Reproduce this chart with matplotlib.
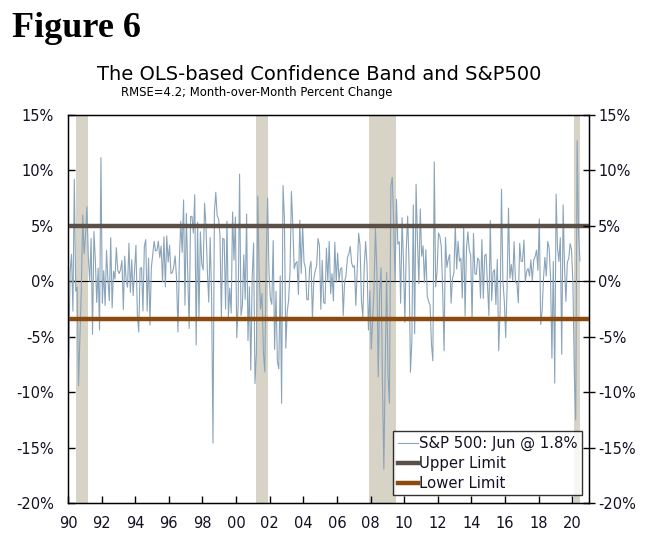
import matplotlib
matplotlib.use("Agg")
import matplotlib.pyplot as plt
import numpy as np

# Monthly S&P 500 percent change, Jan 1990 - Jun 2020
sp_1990 = [-6.88, 0.85, 2.43, -2.69, 9.20, -0.89, -0.52, -9.43, -5.12, -0.67, 5.99, 2.48]
sp_1991 = [4.15, 6.73, 2.22, 0.03, 3.86, -4.79, 4.49, 1.96, -1.91, 1.19, -4.39, 11.16]
sp_1992 = [-1.99, 0.96, -2.18, 2.79, 0.10, -1.74, 3.94, -2.40, 0.91, 0.21, 3.03, 1.01]
sp_1993 = [0.70, 1.05, 1.87, -2.54, 2.27, 0.08, -0.53, 3.44, -1.00, 1.94, -1.29, 1.01]
sp_1994 = [3.25, -3.00, -4.57, 1.15, 1.24, -2.68, 3.15, 3.76, -2.69, 2.09, -3.95, 1.23]
sp_1995 = [2.43, 3.61, 2.73, 2.80, 3.63, 2.13, 3.18, -0.03, 4.01, -0.50, 4.10, 1.74]
sp_1996 = [3.26, 0.69, 0.79, 1.34, 2.29, 0.23, -4.57, 1.88, 5.42, 2.61, 7.34, -2.15]
sp_1997 = [6.13, 0.59, -4.26, 5.84, 5.86, 4.35, 7.81, -5.75, 5.32, -3.45, 4.46, 1.57]
sp_1998 = [1.02, 7.04, 4.99, 0.91, -1.88, 3.94, -1.16, -14.58, 6.24, 8.03, 5.91, 5.64]
sp_1999 = [4.10, -3.23, 3.88, 3.79, -2.50, 5.44, -3.20, -0.63, -2.86, 6.25, 1.91, 5.78]
sp_2000 = [-5.09, -2.01, 9.67, -3.08, -2.19, 2.39, -1.63, 6.07, -5.35, -0.49, -8.01, 0.41]
sp_2001 = [3.46, -9.23, -6.42, 7.68, 0.51, -2.50, -1.08, -6.41, -8.17, 1.81, 7.52, 0.76]
sp_2002 = [-1.56, -2.08, 3.67, -6.14, -0.91, -7.25, -7.90, 0.49, -11.00, 8.64, 5.71, -6.03]
sp_2003 = [-2.74, -1.70, 0.84, 8.10, 5.09, 1.13, 1.62, 1.79, -1.19, 5.50, 0.71, 5.08]
sp_2004 = [1.73, 1.22, -1.64, -1.68, 1.21, 1.80, -3.43, 0.23, 0.94, 1.40, 3.86, 3.25]
sp_2005 = [-2.53, 1.89, -1.91, -2.01, 3.00, -0.01, 3.60, -1.12, 0.69, -1.77, 3.52, -0.10]
sp_2006 = [2.55, 0.05, 1.11, 1.22, -3.09, 0.01, 0.51, 2.13, 2.46, 3.15, 1.65, 1.26]
sp_2007 = [1.41, -2.18, 1.00, 4.33, 3.25, -1.78, -3.20, 1.29, 3.58, 1.48, -4.40, -0.86]
sp_2008 = [-6.12, -3.48, -0.60, 4.75, 1.07, -8.60, -0.99, 1.22, -9.08, -16.94, -7.48, 0.78]
sp_2009 = [-8.57, -10.99, 8.54, 9.39, 5.31, 0.02, 7.41, 3.36, 3.57, -1.98, 5.74, 1.78]
sp_2010 = [-3.70, 2.85, 5.88, 1.48, -8.20, -5.39, 6.88, -4.74, 8.76, 3.69, -0.23, 6.53]
sp_2011 = [2.26, 3.20, -0.10, 2.85, -1.35, -1.83, -2.15, -5.68, -7.18, 10.77, -0.51, 0.85]
sp_2012 = [4.36, 4.06, 3.13, -0.75, -6.27, 3.96, 1.26, 1.98, 2.42, -1.98, 0.28, 0.71]
sp_2013 = [5.04, 1.11, 3.60, 1.81, 2.08, -1.50, 4.95, -3.13, 2.97, 4.46, 2.80, 2.36]
sp_2014 = [-3.56, 4.31, 0.69, 0.62, 2.10, 1.91, -1.51, 3.77, -1.55, 2.32, 2.45, -0.42]
sp_2015 = [-3.10, 5.49, -1.74, 0.85, 1.05, -2.10, 1.97, -6.26, -2.64, 8.30, 0.05, -1.75]
sp_2016 = [-5.07, -0.41, 6.60, 0.27, 1.53, 0.09, 3.56, -0.12, -0.12, -1.94, 3.42, 1.82]
sp_2017 = [1.79, 3.72, -0.04, 0.91, 1.16, 0.48, 1.93, 0.05, 1.93, 2.22, 2.81, 0.98]
sp_2018 = [5.62, -3.89, -2.69, 0.27, 2.16, 0.48, 3.60, 3.03, 0.43, -6.94, 1.79, -9.18]
sp_2019 = [7.87, 2.97, 1.79, 3.93, -6.58, 6.89, 1.31, -1.81, 1.72, 2.04, 3.40, 2.86]
sp_2020 = [-0.16, -8.41, -12.51, 12.68, 4.53, 1.84]

sp_by_year = [sp_1990, sp_1991, sp_1992, sp_1993, sp_1994, sp_1995, sp_1996, sp_1997,
              sp_1998, sp_1999, sp_2000, sp_2001, sp_2002, sp_2003, sp_2004, sp_2005,
              sp_2006, sp_2007, sp_2008, sp_2009, sp_2010, sp_2011, sp_2012, sp_2013,
              sp_2014, sp_2015, sp_2016, sp_2017, sp_2018, sp_2019, sp_2020]
start_year = 1990

upper_limit = 5.0
lower_limit = -3.4

# Recessions (start, end) in decimal years
recessions = [(1990.5, 1991.2), (2001.2, 2001.9), (2007.9, 2009.5), (2020.1, 2020.45)]

xtick_years = list(range(1990, 2021, 2))
xtick_labels = [f"{y % 100:02d}" for y in xtick_years]
ytick_vals = [-20, -15, -10, -5, 0, 5, 10, 15]
ytick_labels = [f"{v}%" for v in ytick_vals]

x_vals, y_vals = [], []
for i, yr in enumerate(sp_by_year):
    for m, v in enumerate(yr):
        x_vals.append(start_year + i + (m + 0.5) / 12)
        y_vals.append(v)

plt.rcParams['font.family'] = ['DejaVu Sans']
txt_color = '#111122'

fig = plt.figure(figsize=(6.49, 5.41), dpi=100)
ax = fig.add_axes([0.1048, 0.0702, 0.8028, 0.7172])

for s, e in recessions:
    ax.axvspan(s, e, color='#d8d3c7', lw=0, zorder=0)

ax.axhline(0, color='black', lw=0.8, zorder=1)
l1, = ax.plot(x_vals, y_vals, color='#8aa4ba', lw=0.8, zorder=2,
              label='S&P 500: Jun @ 1.8%')
l2 = ax.axhline(upper_limit, color='#5b5048', lw=3.2, zorder=3, label='Upper Limit')
l3 = ax.axhline(lower_limit, color='#8b4a0f', lw=3.2, zorder=3, label='Lower Limit')

ax.set_xlim(1990, 2021)
ax.set_ylim(-20, 15)
ax.set_xticks(xtick_years)
ax.set_xticklabels(xtick_labels)
ax.set_yticks(ytick_vals)
ax.set_yticklabels(ytick_labels)
ax.tick_params(axis='x', direction='in', length=5, width=1, labelsize=10.5,
               colors='black', labelcolor=txt_color, pad=9)
ax.tick_params(axis='y', direction='in', length=5, width=1, labelsize=10.5,
               colors='black', labelcolor=txt_color, pad=10)
for sp in ax.spines.values():
    sp.set_color('black')
    sp.set_linewidth(1)

ax2 = ax.twinx()
ax2.set_ylim(-20, 15)
ax2.set_yticks(ytick_vals)
ax2.set_yticklabels(ytick_labels)
ax2.tick_params(axis='y', direction='inout', length=9, width=1, labelsize=10.5,
                colors='black', labelcolor=txt_color, pad=2)

leg = ax.legend(handles=[l1, l2, l3], loc='lower right', bbox_to_anchor=(0.987, 0.02),
                frameon=True, fancybox=False, fontsize=10.7, handlelength=1.4,
                handletextpad=0.05, borderpad=0.3, labelspacing=0.33,
                borderaxespad=0)
leg.get_frame().set_edgecolor('black')
leg.get_frame().set_linewidth(1)
for t in leg.get_texts():
    t.set_color(txt_color)

fig.text(0.018, 0.9316, 'Figure 6', fontsize=26, fontweight='bold',
         family='Liberation Serif', color='black', ha='left', va='baseline')
fig.text(0.492, 0.853, 'The OLS-based Confidence Band and S&P500', fontsize=14,
         color='black', ha='center', va='baseline')
fig.text(0.396, 0.823, 'RMSE=4.2; Month-over-Month Percent Change', fontsize=8.4,
         color='black', ha='center', va='baseline')

fig.savefig('out.png', dpi=100)
